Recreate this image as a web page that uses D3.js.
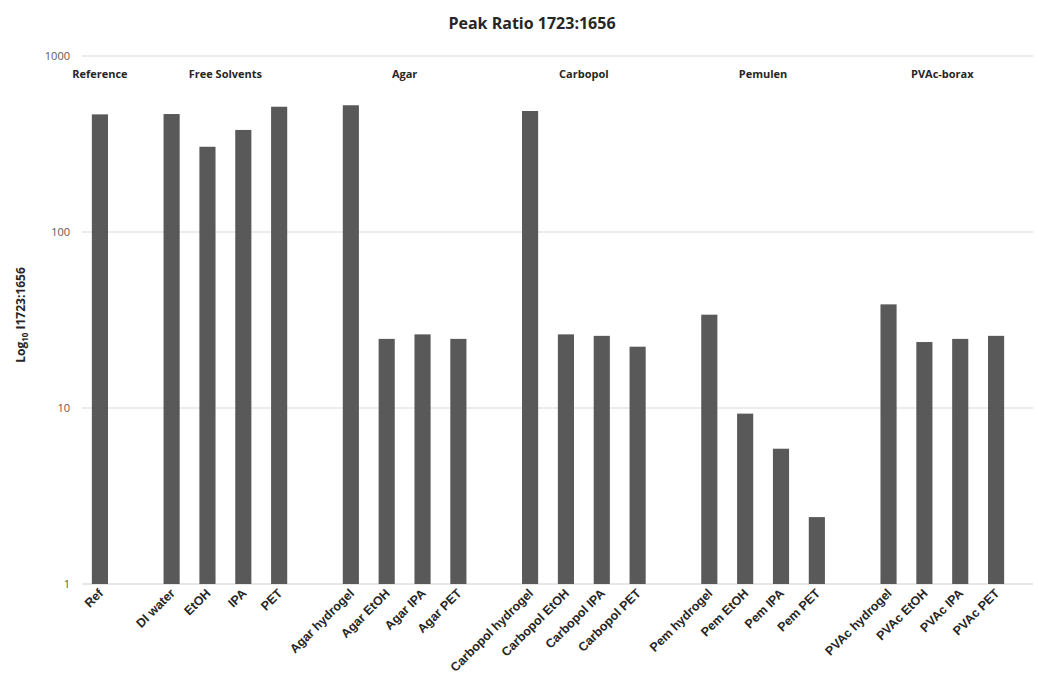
<!DOCTYPE html>
<html><head><meta charset="utf-8">
<script src="https://cdn.jsdelivr.net/npm/d3@7/dist/d3.min.js"></script>
<style>body{margin:0;background:#fff;} text{font-family:"Open Sans","Liberation Sans",sans-serif;}</style>
</head><body><svg id="c" width="1038" height="680"></svg>
<script>
const categories = ["Ref","_g1","DI water","EtOH","IPA","PET","_g2","Agar hydrogel","Agar EtOH","Agar IPA","Agar PET","_g3","Carbopol hydrogel","Carbopol EtOH","Carbopol IPA","Carbopol PET","_g4","Pem hydrogel","Pem EtOH","Pem IPA","Pem PET","_g5","PVAc hydrogel","PVAc EtOH","PVAc IPA","PVAc PET"];
const values = [466,null,468,305,380,515,null,525,24.7,26.2,24.7,null,487,26.2,25.7,22.3,null,33.9,9.29,5.87,2.40,null,38.8,23.7,24.7,25.7];
const groupNames = ["Reference","Free Solvents","Agar","Carbopol","Pemulen","PVAc-borax"];
const groupMembers = [["Ref"],["DI water","PET"],["Agar hydrogel","Agar PET"],["Carbopol hydrogel","Carbopol PET"],["Pem hydrogel","Pem PET"],["PVAc hydrogel","PVAc PET"]];
const yTicks = [1,10,100,1000];

const svg = d3.select("#c");
const x = d3.scaleBand().domain(categories).range([82,1014]).paddingInner(0.55).paddingOuter(0.275);
const y = d3.scaleLog().domain([1,1000]).range([584,56]);

// gridlines
svg.append("g").selectAll("line").data(yTicks).join("line")
  .attr("x1",82).attr("x2",1033).attr("y1",d=>y(d)).attr("y2",d=>y(d))
  .attr("stroke",d=>d===1?"#d0d0d0":"#d9d9d9").attr("stroke-width",1.2);

// y tick labels
svg.append("g").selectAll("text").data(yTicks).join("text")
  .attr("x",70).attr("y",d=>y(d)).attr("dy","0.35em").attr("text-anchor","end")
  .attr("font-size",11).attr("fill","#595959").text(d=>d);

// bars
const data = categories.map((c,i)=>({c,v:values[i]})).filter(d=>d.v!=null);
svg.append("g").selectAll("rect").data(data).join("rect")
  .attr("x",d=>x(d.c)).attr("width",x.bandwidth())
  .attr("y",d=>y(d.v)).attr("height",d=>y(1)-y(d.v))
  .attr("fill","#595959");

// x tick labels
svg.append("g").selectAll("text").data(data).join("text")
  .attr("transform",d=>`translate(${x(d.c)+x.bandwidth()/2+4},${594}) rotate(-45)`)
  .attr("text-anchor","end").attr("font-size",12.5).attr("font-weight","bold").attr("fill","#262626")
  .style("font-family","'Liberation Sans',Arial,sans-serif")
  .text(d=>d.c);

// group labels
svg.append("g").selectAll("text").data(groupNames).join("text")
  .attr("x",(d,i)=>{const m=groupMembers[i];const a=x(m[0]),b=x(m[m.length-1]);return (a+b)/2+x.bandwidth()/2;})
  .attr("y",78).attr("text-anchor","middle").attr("font-size",11).attr("font-weight","bold").attr("fill","#262626")
  .text(d=>d);

// title
svg.append("text").attr("x",532).attr("y",29).attr("text-anchor","middle")
  .attr("font-size",16).attr("font-weight","bold").attr("fill","#262626").text("Peak Ratio 1723:1656");

// y axis title
const yt = svg.append("text").attr("transform","translate(25,315) rotate(-90)").attr("text-anchor","middle")
  .attr("font-size",12).attr("font-weight","bold").attr("fill","#262626");
yt.append("tspan").text("Log");
yt.append("tspan").attr("font-size",8).attr("dy",3).text("10");
yt.append("tspan").attr("dy",-3).text(" I1723:1656");
</script></body></html>
